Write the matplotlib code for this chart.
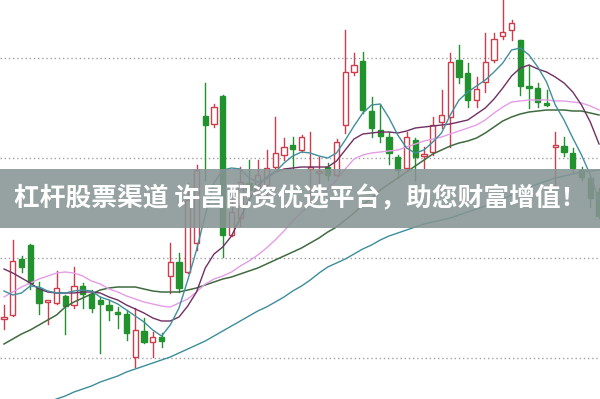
import numpy as np
import matplotlib
matplotlib.use("Agg")
from matplotlib import pyplot as plt
from matplotlib.patches import Rectangle

plt.rcParams['font.family'] = ['Noto Sans CJK SC', 'DejaVu Sans']

# daily candles
opens = [11.39, 11.43, 11.99, 12.13, 11.70, 11.56, 11.55, 11.62, 11.53, 11.72,
         11.64, 11.58, 11.53, 11.46, 11.44, 11.01, 11.27, 11.16, 11.21, 11.82,
         11.96, 11.86, 12.15, 13.42, 13.34, 13.62, 12.23, 12.40, 12.75, 12.68,
         12.73, 12.91, 13.03, 13.13, 13.08, 12.89, 12.85, 12.91, 12.83, 13.33,
         13.86, 13.97, 13.47, 13.28, 13.21, 13.01, 12.90, 13.18, 13.02, 13.06,
         13.36, 13.41, 13.98, 13.85, 13.58, 13.76, 13.98, 14.22, 14.28, 14.18,
         13.72, 13.70, 13.55, 13.11, 13.12, 13.05, 12.88, 12.80, 12.66]
highs = [11.53, 12.18, 12.02, 12.14, 11.76, 11.58, 11.87, 11.63, 11.91, 11.75,
         11.68, 11.61, 11.58, 11.51, 11.48, 11.50, 11.40, 11.26, 11.25, 12.15,
         12.05, 12.75, 12.93, 13.75, 13.54, 13.63, 12.58, 12.91, 12.98, 12.98,
         13.08, 13.41, 13.20, 13.21, 13.23, 13.26, 13.01, 12.95, 13.19, 14.28,
         14.05, 14.06, 13.61, 13.53, 13.26, 13.03, 13.26, 13.20, 13.11, 13.41,
         13.68, 14.05, 14.13, 13.95, 13.81, 14.25, 14.25, 14.60, 14.38, 14.18,
         13.93, 13.75, 13.68, 13.26, 13.21, 13.10, 12.91, 12.83, 12.70]
lows = [11.29, 11.42, 11.86, 11.69, 11.44, 11.34, 11.54, 11.24, 11.50, 11.50,
        11.46, 11.05, 11.38, 11.30, 11.18, 10.91, 11.15, 11.01, 11.11, 11.65,
        11.66, 11.85, 12.08, 12.78, 13.31, 12.01, 12.22, 12.32, 12.58, 12.53,
        12.63, 12.90, 12.98, 12.90, 13.06, 12.58, 12.68, 12.78, 12.82, 13.25,
        13.83, 13.45, 13.21, 13.16, 12.94, 12.80, 12.88, 12.78, 12.90, 13.03,
        13.30, 13.11, 13.75, 13.51, 13.51, 13.66, 13.96, 14.19, 14.18, 13.63,
        13.50, 13.51, 13.52, 12.70, 13.02, 12.86, 12.78, 12.51, 12.40]
closes = [11.41, 11.97, 11.91, 11.75, 11.55, 11.58, 11.70, 11.52, 11.72, 11.64,
          11.50, 11.54, 11.48, 11.44, 11.25, 11.28, 11.16, 11.21, 11.17, 11.96,
          11.70, 12.58, 12.88, 13.33, 13.51, 12.23, 12.46, 12.76, 12.68, 12.83,
          12.90, 13.05, 13.11, 13.09, 13.21, 12.91, 12.87, 12.83, 13.16, 13.86,
          13.93, 13.48, 13.30, 13.22, 13.05, 12.88, 13.21, 13.01, 13.04, 13.33,
          13.43, 13.96, 13.81, 13.58, 13.69, 13.96, 14.19, 14.26, 14.35, 13.72,
          13.70, 13.56, 13.53, 13.13, 13.06, 12.90, 12.81, 12.60, 12.42]

# moving averages
ma5 = [11.67, 11.63, 11.65, 11.72, 11.71, 11.67, 11.65, 11.65, 11.67, 11.68,
       11.67, 11.61, 11.58, 11.54, 11.48, 11.42, 11.36, 11.28, 11.22, 11.33,
       11.50, 11.78, 12.08, 12.43, 12.75, 12.88, 12.90, 12.89, 12.80, 12.76,
       12.79, 12.86, 12.95, 13.02, 13.06, 13.05, 13.02, 13.00, 13.05, 13.18,
       13.32, 13.45, 13.53, 13.54, 13.40, 13.23, 13.10, 13.05, 13.08, 13.16,
       13.25, 13.43, 13.58, 13.66, 13.72, 13.78, 13.86, 13.95, 14.08, 14.10,
       14.03, 13.91, 13.76, 13.53, 13.38, 13.20, 13.03, 12.83, 12.58]
ma10 = [11.89, 11.85, 11.80, 11.75, 11.69, 11.66, 11.65, 11.65, 11.65, 11.66,
        11.66, 11.65, 11.61, 11.58, 11.53, 11.49, 11.45, 11.40, 11.37, 11.37,
        11.41, 11.52, 11.66, 11.90, 12.04, 12.11, 12.22, 12.40, 12.58, 12.72,
        12.81, 12.86, 12.89, 12.90, 12.91, 12.91, 12.91, 12.91, 12.97, 13.08,
        13.19, 13.24, 13.25, 13.26, 13.26, 13.25, 13.27, 13.30, 13.31, 13.32,
        13.33, 13.34, 13.36, 13.38, 13.44, 13.50, 13.59, 13.70, 13.82, 13.90,
        13.93, 13.89, 13.86, 13.81, 13.75, 13.66, 13.53, 13.36, 13.14]
ma20 = [11.61, 11.66, 11.71, 11.75, 11.79, 11.82, 11.85, 11.86, 11.85, 11.82,
        11.77, 11.74, 11.69, 11.66, 11.62, 11.59, 11.56, 11.54, 11.52, 11.51,
        11.55, 11.59, 11.66, 11.74, 11.79, 11.82, 11.86, 11.92, 11.97, 12.03,
        12.10, 12.18, 12.27, 12.37, 12.46, 12.53, 12.61, 12.69, 12.78, 12.89,
        12.99, 13.03, 13.05, 13.06, 13.07, 13.08, 13.11, 13.14, 13.17, 13.19,
        13.21, 13.24, 13.27, 13.30, 13.33, 13.38, 13.45, 13.51, 13.56, 13.57,
        13.58, 13.58, 13.58, 13.57, 13.57, 13.56, 13.55, 13.52, 13.48]
ma30 = [11.14, 11.19, 11.24, 11.28, 11.33, 11.38, 11.43, 11.51, 11.56, 11.60,
        11.64, 11.68, 11.70, 11.71, 11.71, 11.71, 11.69, 11.67, 11.66, 11.66,
        11.66, 11.68, 11.70, 11.73, 11.76, 11.79, 11.81, 11.84, 11.87, 11.90,
        11.94, 11.98, 12.02, 12.06, 12.10, 12.15, 12.20, 12.26, 12.31, 12.38,
        12.45, 12.53, 12.60, 12.68, 12.74, 12.80, 12.86, 12.92, 12.98, 13.04,
        13.08, 13.12, 13.15, 13.17, 13.20, 13.25, 13.31, 13.37, 13.41, 13.44,
        13.46, 13.47, 13.48, 13.48, 13.48, 13.47, 13.47, 13.45, 13.43]
ma_long = [np.nan, np.nan, np.nan, np.nan, np.nan, 10.56, 10.59, 10.62, 10.66, 10.69,
           10.72, 10.76, 10.79, 10.82, 10.86, 10.89, 10.92, 10.95, 10.98, 11.01,
           11.05, 11.09, 11.13, 11.17, 11.22, 11.27, 11.32, 11.37, 11.42, 11.47,
           11.51, 11.56, 11.61, 11.67, 11.72, 11.78, 11.85, 11.91, 11.95, 11.99,
           12.04, 12.09, 12.13, 12.18, 12.22, 12.25, 12.28, 12.31, 12.34, 12.36,
           12.38, 12.40, 12.43, 12.46, 12.49, 12.52, 12.55, 12.59, 12.63, 12.67,
           12.71, 12.74, 12.77, 12.80, 12.82, 12.84, 12.86, 12.87, 12.88]

grid_levels = [11.0, 12.0, 13.0, 14.0]
banner_text = "杠杆股票渠道 许昌配资优选平台，助您财富增值！"

up_color = '#cf3d4c'
down_color = '#22922e'

fig = plt.figure(figsize=(6, 3.99), dpi=100)
ax = fig.add_axes([0, 0, 1, 1])
ax.set_xlim(-0.457, 68.11)
ax.set_ylim(10.59, 14.58)
ax.axis('off')

for lvl in grid_levels:
    ax.axhline(lvl, color='#a0a0a0', lw=1.0, linestyle=(0, (1, 2)), zorder=1)

x = np.arange(len(opens))
w = 0.6
for i in x:
    o, h, l, c = opens[i], highs[i], lows[i], closes[i]
    top, bot = max(o, c), min(o, c)
    if c >= o:
        ax.plot([i, i], [top, h], color=up_color, lw=1.0, zorder=2)
        ax.plot([i, i], [l, bot], color=up_color, lw=1.0, zorder=2)
        ax.add_patch(Rectangle((i - w / 2, bot), w, max(top - bot, 0.008),
                               facecolor='white', edgecolor=up_color, lw=1.0, zorder=2))
    else:
        ax.plot([i, i], [l, h], color=down_color, lw=1.0, zorder=2)
        ax.add_patch(Rectangle((i - w / 2, bot), w, max(top - bot, 0.008),
                               facecolor=down_color, edgecolor=down_color, lw=1.0, zorder=2))

ax.plot(x, ma_long, color='#3b8d9a', lw=1.0, zorder=3)
ax.plot(x, ma30, color='#3f6b3f', lw=1.1, zorder=3)
ax.plot(x, ma20, color='#e49de6', lw=1.0, zorder=3)
ax.plot(x, ma10, color='#6f2f62', lw=1.0, zorder=3)
ax.plot(x, ma5, color='#3f8f9d', lw=1.0, zorder=3)

# grey banner with the caption
ax.add_patch(Rectangle((0, 0.4286), 1, 0.1479, transform=ax.transAxes,
                       facecolor='#889494', alpha=0.88, edgecolor='none', zorder=5))
ax.text(0.5, 0.501, banner_text, transform=ax.transAxes, ha='center', va='center',
        color='white', fontsize=18.5, fontweight='bold', zorder=6)

fig.savefig('out.png', dpi=100)
